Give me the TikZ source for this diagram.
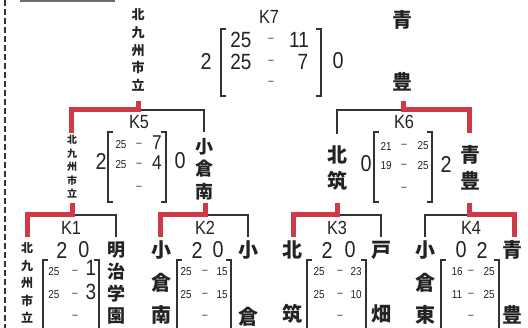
\documentclass[tikz,border=0pt]{standalone}
\usepackage{fontspec}
\setmainfont{Liberation Sans}[FakeStretch=0.86]
\newfontfamily\jp{Noto Sans CJK JP}
\definecolor{redl}{RGB}{208,58,72}
\definecolor{ink}{RGB}{35,35,35}
\definecolor{gline}{RGB}{50,50,50}
\tikzset{
  t/.style={inner sep=0pt, text=ink},
  kl/.style={t, font=\fontsize{19}{19}\selectfont},
  outer/.style={t, font=\fontsize{23}{23}\selectfont},
  bigd/.style={t, font=\fontsize{22}{22}\selectfont},
  midd/.style={t, font=\fontsize{20}{20}\selectfont},
  smd/.style={t, font=\fontsize{11.5}{11.5}\selectfont},
  dsh/.style={t, font=\fontsize{11}{11}\selectfont},
  jpa/.style={t, font=\jp\bfseries\fontsize{20}{20}\selectfont},
  vert/.style={t, align=center},
  brk/.style={draw=gline, line width=1.8pt},
  win/.style={draw=redl, line width=5pt},
  lose/.style={draw=gline, line width=1.8pt},
}
\newcommand\lbk[3]{\draw[brk] ({#1+5},#2) -- (#1,#2) -- (#1,#3) -- ({#1+5},#3);}
\newcommand\rbk[3]{\draw[brk] ({#1-5},#2) -- (#1,#2) -- (#1,#3) -- ({#1-5},#3);}
\begin{document}
\begin{tikzpicture}[x=1pt,y=-1pt]
\clip (0,0) rectangle (528,328);
\fill[white] (0,0) rectangle (528,328);
% border and top remnant
\draw[gline, line width=1.4pt, dash pattern=on 6pt off 3pt] (5,0) -- (5,328);
\draw[gline!70, line width=2pt] (20,1) -- (115,1);

% ===== K7 =====
\node[kl] (k7) at (269,17) {K7};
\node[vert, font=\jp\bfseries\fontsize{13}{17.75}\selectfont] (k7a) at (138,50) {北\\九\\州\\市\\立};
\node[jpa] (k7b1) at (402,20) {青};
\node[jpa] (k7b2) at (402,82) {豊};
\node[outer] (k7s1) at (206,61) {2};
\node[outer] (k7s2) at (338,61) {0};
\lbk{221}{29}{96}
\rbk{321}{29}{96}
\node[bigd] (k7a1) at (241,40) {25};
\node[dsh] (k7d1) at (271,40) {–};
\node[bigd] (k7b1s) at (299,40) {11};
\node[bigd] (k7a2) at (241,62) {25};
\node[dsh] (k7d2) at (271,62) {–};
\node[bigd] (k7b2s) at (303,62) {7};
\node[dsh] (k7d3) at (271,83) {–};

% ===== K5 =====
\node[kl] (k5) at (139,122) {K5};
\node[vert, font=\jp\bfseries\fontsize{10}{13.5}\selectfont] (k5a) at (72,167) {北\\九\\州\\市\\立};
\node[vert, font=\jp\bfseries\fontsize{18}{22.5}\selectfont] (k5b) at (204,169) {小\\倉\\南};
\node[outer] (k5s1) at (101,161) {2};
\node[outer] (k5s2) at (180,161) {0};
\lbk{108}{132}{202}
\rbk{166}{132}{202}
\node[smd] (k5a1) at (121,145) {25};
\node[dsh] (k5d1) at (139,145) {–};
\node[midd] (k5b1s) at (157,143) {7};
\node[smd] (k5a2) at (121,165) {25};
\node[dsh] (k5d2) at (139,165) {–};
\node[midd] (k5b2s) at (157,163) {4};
\node[dsh] (k5d3) at (139,188) {–};

% ===== K6 =====
\node[kl] (k6) at (404,122) {K6};
\node[vert, font=\jp\bfseries\fontsize{20}{26}\selectfont] (k6a) at (337,168) {北\\筑};
\node[vert, font=\jp\bfseries\fontsize{20}{26}\selectfont] (k6b) at (470,168) {青\\豊};
\node[outer] (k6s1) at (366,164) {0};
\node[outer] (k6s2) at (446,164) {2};
\lbk{374}{132}{202}
\rbk{432}{132}{202}
\node[smd] (k6a1) at (386,146) {21};
\node[dsh] (k6d1) at (404,146) {–};
\node[smd] (k6b1s) at (423,146) {25};
\node[smd] (k6a2) at (386,166) {19};
\node[dsh] (k6d2) at (404,166) {–};
\node[smd] (k6b2s) at (423,166) {25};
\node[dsh] (k6d3) at (404,189) {–};

% ===== K1 =====
\node[kl] (k1) at (71,228) {K1};
\node[vert, font=\jp\bfseries\fontsize{12}{17.5}\selectfont] (k1a) at (27,283) {北\\九\\州\\市\\立};
\node[vert, font=\jp\bfseries\fontsize{18}{22}\selectfont] (k1b) at (116,283) {明\\治\\学\\園};
\node[outer] (k1s1) at (62,250) {2};
\node[outer] (k1s2) at (84,250) {0};
\lbk{43}{260}{340}
\rbk{99}{260}{340}
\node[smd] (k1a1) at (54,272) {25};
\node[dsh] (k1d1) at (75,272) {–};
\node[bigd] (k1b1s) at (91,268) {1};
\node[smd] (k1a2) at (54,295) {25};
\node[dsh] (k1d2) at (75,295) {–};
\node[bigd] (k1b2s) at (91,292) {3};
\node[dsh] (k1d3) at (75,317) {–};

% ===== K2 =====
\node[kl] (k2) at (205,228) {K2};
\node[vert, font=\jp\bfseries\fontsize{20}{32.5}\selectfont] (k2a) at (161,283) {小\\倉\\南};
\node[jpa] (k2b1) at (248,250) {小};
\node[jpa] (k2b2) at (248,317) {倉};
\node[outer] (k2s1) at (197,250) {2};
\node[outer] (k2s2) at (218,250) {0};
\lbk{177}{260}{340}
\rbk{231}{260}{340}
\node[smd] (k2a1) at (186,272) {25};
\node[dsh] (k2d1) at (205,272) {–};
\node[smd] (k2b1s) at (222,272) {15};
\node[smd] (k2a2) at (186,295) {25};
\node[dsh] (k2d2) at (205,295) {–};
\node[smd] (k2b2s) at (222,295) {15};
\node[dsh] (k2d3) at (205,317) {–};

% ===== K3 =====
\node[kl] (k3) at (337,228) {K3};
\node[jpa] (k3a1) at (292,250) {北};
\node[jpa] (k3a2) at (292,314) {筑};
\node[jpa] (k3b1) at (381,250) {戸};
\node[jpa] (k3b2) at (381,314) {畑};
\node[outer] (k3s1) at (327,250) {2};
\node[outer] (k3s2) at (350,250) {0};
\lbk{307}{260}{340}
\rbk{366}{260}{340}
\node[smd] (k3a1s) at (319,272) {25};
\node[dsh] (k3d1) at (340,272) {–};
\node[smd] (k3b1s) at (356,272) {23};
\node[smd] (k3a2s) at (319,295) {25};
\node[dsh] (k3d2) at (340,295) {–};
\node[smd] (k3b2s) at (356,295) {10};
\node[dsh] (k3d3) at (340,317) {–};

% ===== K4 =====
\node[kl] (k4) at (471,228) {K4};
\node[vert, font=\jp\bfseries\fontsize{20}{32.5}\selectfont] (k4a) at (425,283) {小\\倉\\東};
\node[jpa] (k4b1) at (512,250) {青};
\node[jpa] (k4b2) at (512,315) {豊};
\node[outer] (k4s1) at (461,250) {0};
\node[outer] (k4s2) at (482,250) {2};
\lbk{441}{260}{340}
\rbk{499}{260}{340}
\node[smd] (k4a1) at (457,272) {16};
\node[dsh] (k4d1) at (471,272) {–};
\node[smd] (k4b1s) at (489,272) {25};
\node[smd] (k4a2) at (457,295) {11};
\node[dsh] (k4d2) at (471,295) {–};
\node[smd] (k4b2s) at (489,295) {25};
\node[dsh] (k4d3) at (471,317) {–};

% ===== connectors =====
\coordinate (c5l) at (71,133);  \coordinate (c5m) at (138,110); \coordinate (c5r) at (204,132);
\coordinate (c5w) at (138,101);
\coordinate (c6l) at (337,134); \coordinate (c6m) at (403,110); \coordinate (c6r) at (469,133);
\coordinate (c6w) at (403,101);
\coordinate (c1l) at (27,237);  \coordinate (c1m) at (72,215);  \coordinate (c1r) at (116,237);
\coordinate (c1w) at (72,203);
\coordinate (c2l) at (160,237); \coordinate (c2m) at (205,215); \coordinate (c2r) at (248,237);
\coordinate (c2w) at (205,203);
\coordinate (c3l) at (293,237); \coordinate (c3m) at (337,215); \coordinate (c3r) at (381,237);
\coordinate (c3w) at (337,203);
\coordinate (c4l) at (425,237); \coordinate (c4m) at (469,215); \coordinate (c4r) at (514,237);
\coordinate (c4w) at (469,203);
% losers (gray)
\draw[lose] (c5m) -| (c5r);
\draw[lose] (c6m) -| (c6l);
\draw[lose] (c1m) -| (c1r);
\draw[lose] (c2m) -| (c2r);
\draw[lose] (c3m) -| (c3r);
\draw[lose] (c4m) -| (c4l);
% winners (red)
\draw[win] (c5l) |- (c5m) -- (c5w);
\draw[win] (c6r) |- (c6m) -- (c6w);
\draw[win] (c1l) |- (c1m) -- (c1w);
\draw[win] (c2l) |- (c2m) -- (c2w);
\draw[win] (c3l) |- (c3m) -- (c3w);
\draw[win] (c4r) |- (c4m) -- (c4w);
\end{tikzpicture}
\end{document}
